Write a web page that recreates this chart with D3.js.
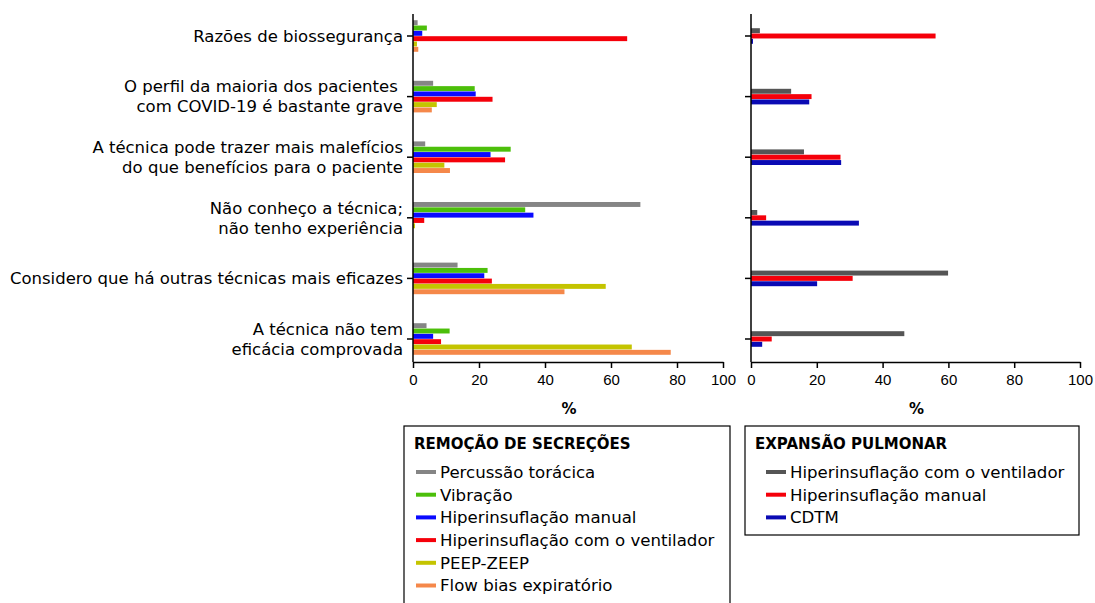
<!DOCTYPE html>
<html>
<head>
  <meta charset="utf-8">
  <title>Razões para não utilizar as técnicas</title>
  <script src="https://d3js.org/d3.v7.min.js"></script>
  <style>
    body { margin: 0; background: #fff; }
    svg { font-family: "DejaVu Sans", sans-serif; }
    .axis path, .axis line { stroke: #000; stroke-width: 1.5; }
    .axis text { font-size: 15px; fill: #000; }
    .cat-label { font-size: 16.5px; fill: #000; white-space: pre; }
    .legend-title { font-size: 15px; font-weight: bold; }
    .legend-item { font-size: 16.6px; }
  </style>
</head>
<body>
  <svg id="chart" width="1095" height="603"></svg>

  <script>
    // categories (one per group, split on two lines where the figure does)
    const categories = [
      ["Razões de biossegurança"],
      ["O perfil da maioria dos pacientes ", "com COVID-19 é bastante grave"],
      ["A técnica pode trazer mais malefícios", "do que benefícios para o paciente"],
      ["Não conheço a técnica;", "não tenho experiência"],
      ["Considero que há outras técnicas mais eficazes"],
      ["A técnica não tem", "eficácia comprovada"]
    ];

    // left panel: remoção de secreções (%)
    const leftSeries = ["Percussão torácica", "Vibração", "Hiperinsuflação manual",
      "Hiperinsuflação com o ventilador", "PEEP-ZEEP", "Flow bias expiratório"];
    const leftColors = ["#858585", "#4cbf0a", "#0a0aff", "#f5000a", "#c4c400", "#f5884a"];
    const percussao = [1.4, 6.1, 3.7, 68.9, 13.5, 4.1];
    const vibracao = [4.2, 18.7, 29.6, 34.0, 22.6, 11.1];
    const hiperManual = [2.8, 19.0, 23.5, 36.5, 21.6, 6.1];
    const hiperVentilador = [64.9, 24.1, 27.9, 3.4, 23.9, 8.5];
    const peepZeep = [1.2, 7.2, 9.5, 0.6, 58.4, 66.3];
    const flowBias = [1.6, 5.7, 11.2, 0, 45.9, 78.1];
    const leftValues = [percussao, vibracao, hiperManual, hiperVentilador, peepZeep, flowBias];

    // right panel: expansão pulmonar (%)
    const rightSeries = ["Hiperinsuflação com o ventilador", "Hiperinsuflação manual", "CDTM"];
    const rightColors = ["#555555", "#f5000a", "#0a0ab4"];
    const expVentilador = [2.7, 12.2, 16.1, 1.9, 59.9, 46.6];
    const expManual = [56.1, 18.4, 27.2, 4.6, 30.9, 6.3];
    const cdtm = [0.6, 17.7, 27.4, 32.8, 20.1, 3.4];
    const rightValues = [expVentilador, expManual, cdtm];

    const xTicks = [0, 20, 40, 60, 80, 100];

    const svg = d3.select("#chart");
    const plotTop = 14, plotBottom = 362;

    const y = d3.scalePoint()
      .domain(d3.range(categories.length))
      .range([36, 339]);

    // left axis is drawn with a shortened last segment, as in the figure
    const xLeft = d3.scaleLinear().domain([0, 80, 100]).range([413, 677, 723]);
    const xRight = d3.scaleLinear().domain([0, 100]).range([751, 1080]);

    const barH = 5.33;

    function panel(x, series, colors, values, showLabels) {
      const inner = d3.scaleBand()
        .domain(d3.range(series.length))
        .range([-barH * series.length / 2, barH * series.length / 2]);

      const g = svg.append("g");
      series.forEach((s, si) => {
        g.selectAll(null)
          .data(values[si])
          .enter()
          .append("rect")
          .attr("x", x(0))
          .attr("y", (d, i) => y(i) + inner(si) + 0.2)
          .attr("width", d => x(d) - x(0))
          .attr("height", inner.bandwidth() - 0.4)
          .attr("fill", colors[si]);
      });

      // y axis line + ticks
      const x0 = x(0);
      g.append("line")
        .attr("x1", x0).attr("x2", x0)
        .attr("y1", plotTop).attr("y2", plotBottom)
        .attr("stroke", "#000").attr("stroke-width", 1.5);
      g.selectAll(null)
        .data(categories)
        .enter()
        .append("line")
        .attr("x1", x0 - 6).attr("x2", x0)
        .attr("y1", (d, i) => y(i)).attr("y2", (d, i) => y(i))
        .attr("stroke", "#000").attr("stroke-width", 1.5);

      if (showLabels) {
        const lab = g.selectAll(null)
          .data(categories)
          .enter()
          .append("text")
          .attr("class", "cat-label")
          .attr("text-anchor", "end")
          .attr("transform", (d, i) => `translate(${x0 - 10},${y(i)})`);
        lab.selectAll("tspan")
          .data(d => d.map((t, k) => ({ t, k, n: d.length })))
          .enter()
          .append("tspan")
          .attr("x", 0)
          .attr("y", d => (d.k - (d.n - 1) / 2) * 20)
          .attr("dy", "0.35em")
          .text(d => d.t);
      }

      // x axis
      svg.append("g")
        .attr("class", "axis")
        .attr("transform", `translate(0,${plotBottom})`)
        .call(d3.axisBottom(x).tickValues(xTicks).tickSize(6).tickSizeOuter(0).tickPadding(6));

      const [r0, r1] = [x(0), x(100)];
      svg.append("text")
        .attr("x", (r0 + r1) / 2 + 1)
        .attr("y", 414)
        .attr("text-anchor", "middle")
        .attr("font-size", 15)
        .attr("font-weight", "bold")
        .text("%");
    }

    panel(xLeft, leftSeries, leftColors, leftValues, true);
    panel(xRight, rightSeries, rightColors, rightValues, false);

    // legends
    function legend(x0, y0, w, h, title, series, colors, indent) {
      const g = svg.append("g").attr("transform", `translate(${x0},${y0})`);
      g.append("rect")
        .attr("width", w).attr("height", h)
        .attr("fill", "#fff").attr("stroke", "#000").attr("stroke-width", 1.2);
      g.append("text")
        .attr("class", "legend-title")
        .attr("x", 10).attr("y", 18)
        .attr("dy", "0.35em")
        .text(title);
      const items = g.selectAll(null)
        .data(series)
        .enter()
        .append("g")
        .attr("transform", (d, i) => `translate(${indent},${46 + i * 22.7})`);
      items.append("line")
        .attr("x1", 0).attr("x2", 20)
        .attr("stroke", (d, i) => colors[i])
        .attr("stroke-width", 4);
      items.append("text")
        .attr("class", "legend-item")
        .attr("x", 24)
        .attr("dy", "0.35em")
        .text(d => d);
    }

    legend(404, 426, 326, 180, "REMOÇÃO DE SECREÇÕES", leftSeries, leftColors, 12);
    legend(745, 426, 334, 109, "EXPANSÃO PULMONAR", rightSeries, rightColors, 21);
  </script>
</body>
</html>
